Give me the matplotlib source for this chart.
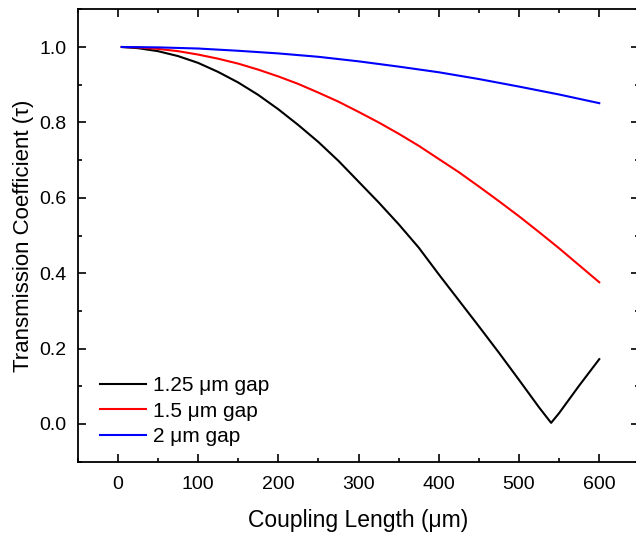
import numpy as np
import matplotlib
matplotlib.use("Agg")
import matplotlib.pyplot as plt
from matplotlib.ticker import MultipleLocator

plt.rcParams['font.family'] = ['Liberation Sans', 'DejaVu Sans']

# Data
L_black = [5, 25, 50, 75, 100, 125, 150, 175, 200, 225, 250, 275, 300, 325, 350,
           375, 400, 425, 450, 475, 500, 525, 540, 550, 575, 600]
T_black = [1.000, 0.997, 0.989, 0.976, 0.958, 0.934, 0.906, 0.873, 0.835, 0.793,
           0.748, 0.698, 0.643, 0.588, 0.530, 0.468, 0.397, 0.328, 0.259, 0.189,
           0.117, 0.044, 0.003, 0.029, 0.102, 0.172]

L_red = [5, 25, 50, 75, 100, 125, 150, 175, 200, 225, 250, 275, 300, 325, 350,
         375, 400, 425, 450, 475, 500, 525, 550, 575, 600]
T_red = [1.000, 0.999, 0.995, 0.989, 0.980, 0.969, 0.956, 0.940, 0.922, 0.902,
         0.879, 0.855, 0.828, 0.800, 0.770, 0.738, 0.703, 0.668, 0.630, 0.591,
         0.551, 0.509, 0.466, 0.421, 0.376]

L_blue = [5, 50, 100, 150, 200, 250, 300, 350, 400, 450, 500, 550, 600]
T_blue = [1.000, 0.999, 0.996, 0.990, 0.983, 0.974, 0.962, 0.948, 0.933, 0.915,
          0.895, 0.874, 0.851]

labels = ["1.25 μm gap", "1.5 μm gap", "2 μm gap"]
colors = ["black", "#ff0000", "#0000ff"]

W, H = 636, 536
fig = plt.figure(figsize=(W / 100, H / 100), dpi=100)
left, right, top, bottom = 77.6, 639.4, 9.3, 461.7
ax = fig.add_axes([left / W, 1 - bottom / H, (right - left) / W, (bottom - top) / H])

for L, T, lab, c in zip([L_black, L_red, L_blue], [T_black, T_red, T_blue], labels, colors):
    ax.plot(L, T, color=c, lw=1.5, label=lab)

ax.set_xlim(-50, 650)
ax.set_ylim(-0.1, 1.1)
ax.xaxis.set_minor_locator(MultipleLocator(50))
ax.yaxis.set_minor_locator(MultipleLocator(0.1))
ax.set_xticks([0, 100, 200, 300, 400, 500, 600])
ax.set_yticks([0.0, 0.2, 0.4, 0.6, 0.8, 1.0])
ax.set_yticklabels(["0.0", "0.2", "0.4", "0.6", "0.8", "1.0"])
ax.tick_params(which='both', direction='in', top=True, right=True, labelsize=14, width=1.2)
ax.tick_params(which='major', length=6)
ax.tick_params(which='minor', length=3)
ax.tick_params(axis='x', pad=10)
ax.tick_params(axis='y', pad=8)
for s in ax.spines.values():
    s.set_linewidth(1.3)

ax.set_xlabel("Coupling Length (μm)", fontsize=16.5, labelpad=12)
ax.set_ylabel("Transmission Coefficient (τ)", fontsize=16, labelpad=4)

leg = ax.legend(loc='lower left', bbox_to_anchor=(0.04, 0.035), frameon=False,
                fontsize=15, handlelength=2.2, handletextpad=0.35, labelspacing=0.3,
                borderpad=0, borderaxespad=0)

fig.savefig("out.png", dpi=100)
